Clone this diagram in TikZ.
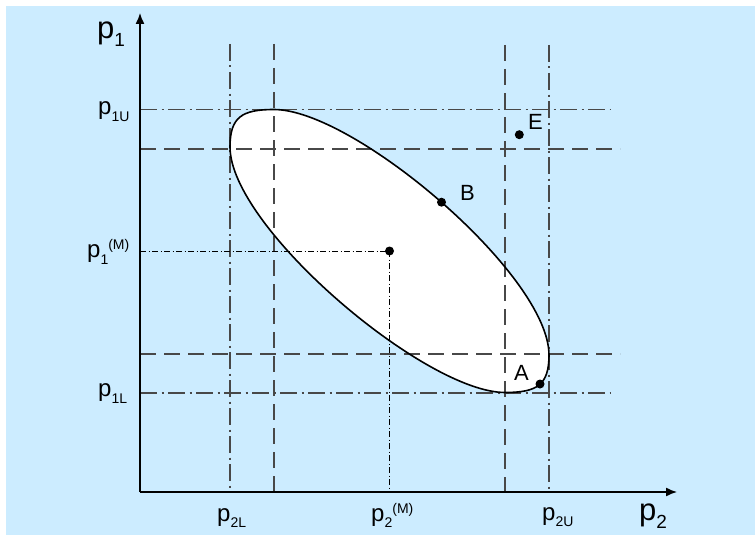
\documentclass[tikz,border=0pt]{standalone}
\usepackage{fontspec}
\setmainfont{Liberation Sans}
\usetikzlibrary{arrows.meta}
\definecolor{bgblue}{RGB}{204,236,255}
\definecolor{gridgray}{RGB}{72,72,72}
\newcommand{\lsc}[3]{\raisebox{#1}{\fontsize{#2}{#2}\selectfont #3}}
\begin{document}
\begin{tikzpicture}[x=1pt,y=-1pt,
  axisline/.style={line width=1.4pt, black, -{Latex[length=11pt,width=9pt]}},
  dashline/.style={gridgray, line width=1.3pt, dash pattern=on 16pt off 8pt},
  dashdotline/.style={gridgray, line width=1.3pt, dash pattern=on 17pt off 4.5pt on 2pt off 4.5pt},
  meanline/.style={black, line width=0.8pt, dash pattern=on 6pt off 2.5pt on 1pt off 2.5pt},
  regionline/.style={black, line width=1.6pt},
  dotpt/.style={circle, fill=black, inner sep=0pt, minimum size=9pt},
  biglbl/.style={inner sep=0pt, anchor=base west, font=\fontsize{31}{31}\selectfont},
  smalllbl/.style={inner sep=0pt, anchor=base west, font=\fontsize{24}{24}\selectfont},
  ptlbl/.style={inner sep=0pt, anchor=base west, font=\fontsize{22}{22}\selectfont},
]
\useasboundingbox (0,0) rectangle (755,535);
\fill[bgblue] (6,6) rectangle (755,535);

% coordinates
\coordinate (O) at (140,492);
\coordinate (ytip) at (140,13);
\coordinate (xtip) at (677,492);
\coordinate (C) at (389.5,251);
\coordinate (T) at (274,109.5);
\coordinate (R) at (549,355);
\coordinate (Bo) at (505,392.5);
\coordinate (L) at (230,147);

% region
\fill[white] (T) .. controls (354,109.5) and (549,275) .. (R)
  .. controls (549,385) and (537,392.5) .. (Bo)
  .. controls (425,392.5) and (230,227) .. (L)
  .. controls (230,117) and (242,109.5) .. (T) -- cycle;

\coordinate (v1t) at (230,44);  \coordinate (v1b) at (230,492);
\coordinate (v2t) at (274,44);  \coordinate (v2b) at (274,492);
\coordinate (v3t) at (505,45);  \coordinate (v3b) at (505,492);
\coordinate (v4t) at (549,45);  \coordinate (v4b) at (549,492);
\coordinate (vmb) at (389.5,492);

\coordinate (h1l) at (140,109.5); \coordinate (h1r) at (610,109.5);
\coordinate (h2l) at (140,149);   \coordinate (h2r) at (620,149);
\coordinate (hml) at (140,251);
\coordinate (h3l) at (140,354);   \coordinate (h3r) at (620,354);
\coordinate (h4l) at (140,393);   \coordinate (h4r) at (610,393);

% grid lines
\draw[dashdotline] (v1t) -- (v1b);
\draw[dashline] (v2t) -- (v2b);
\draw[dashline] (v3t) -- (v3b);
\draw[dashdotline] (v4t) -- (v4b);
\draw[dashdotline] (h1l) -- (h1r);
\draw[dashline] (h2l) -- (h2r);
\draw[dashline] (h3l) -- (h3r);
\draw[dashdotline] (h4l) -- (h4r);
\draw[meanline] (hml) -- (C);
\draw[meanline] (C) -- (vmb);

% outline
\draw[regionline] (T) .. controls (354,109.5) and (549,275) .. (R)
  .. controls (549,385) and (537,392.5) .. (Bo)
  .. controls (425,392.5) and (230,227) .. (L)
  .. controls (230,117) and (242,109.5) .. (T) -- cycle;

% axes
\draw[axisline] (O) -- (ytip);
\draw[axisline] (O) -- (xtip);

% points
\node[dotpt] (ptC) at (C) {};
\node[dotpt] (ptB) at (441.5,202.2) {};
\node[dotpt] (ptA) at (540,384) {};
\node[dotpt] (ptE) at (519.3,134.7) {};
\node[ptlbl] (lE) at (528,129.5) {E};
\node[ptlbl] (lB) at (460,200.5) {B};
\node[ptlbl] (lA) at (514,380) {A};

% axis labels
\node[biglbl] (lp1) at (97,39) {p\lsc{-8pt}{19}{1}};
\node[biglbl] (lp2) at (639,520) {p\lsc{-8pt}{19}{2}};
\node[smalllbl] (lp1U) at (98,114) {p\lsc{-7pt}{14}{1U}};
\node[smalllbl] (lp1M) at (87,257) {p\lsc{-7pt}{14}{1}\lsc{8pt}{14}{(M)}};
\node[smalllbl] (lp1L) at (98,396) {p\lsc{-7pt}{14}{1L}};
\node[smalllbl] (lp2L) at (217,521) {p\lsc{-6pt}{14}{2L}};
\node[smalllbl] (lp2M) at (371,521) {p\lsc{-6pt}{14}{2}\lsc{8pt}{14}{(M)}};
\node[smalllbl] (lp2U) at (542,520) {p\lsc{-6pt}{14}{2U}};
\end{tikzpicture}
\end{document}
